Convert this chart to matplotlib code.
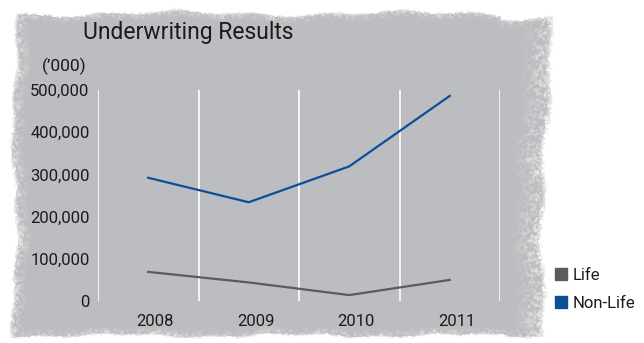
#!/usr/bin/env python
# Underwriting results, Life vs Non-Life, 2008-2011 ('000), drawn on a
# rough grey card background.
import numpy as np
import matplotlib
matplotlib.use("Agg")
import matplotlib.pyplot as plt
from matplotlib.lines import Line2D

years = ["2008", "2009", "2010", "2011"]
non_life = [292000, 234000, 319000, 486000]
life = [69000, 44000, 14000, 50000]
yticks = [0, 100000, 200000, 300000, 400000, 500000]

W, H = 644, 343
CARD = np.array([0.741, 0.745, 0.753])
BLUE = "#0c4e98"
GREY = "#5b5b5b"
INK = "#1b1b1b"

plt.rcParams["font.family"] = ["Roboto", "DejaVu Sans"]


def card_background():
    # grey card with ragged, speckled edges
    rng = np.random.default_rng(11)
    yy, xx = np.mgrid[0:H, 0:W].astype(float)

    def smooth(a, k):
        ker = np.ones(k) / k
        a = np.apply_along_axis(lambda r: np.convolve(r, ker, mode="same"), 0, a)
        a = np.apply_along_axis(lambda r: np.convolve(r, ker, mode="same"), 1, a)
        return a

    left = 13 + 2.5 * np.sin(yy / 29.0) + 1.5 * np.sin(yy / 9.3 + 1.0)
    right = (548 + 4 * np.sin(yy / 41.0 + 0.2) + 2 * np.sin(yy / 13.7)
             - 7 * np.clip((yy - 200) / 60.0, 0, 1))
    top = 12 + 2 * np.sin(xx / 37.0) + 1.5 * np.sin(xx / 11.7 + 2.0) + 4 * (xx > 500)
    bottom = 336 + 1.5 * np.sin(xx / 27.0 + 0.3) + 1 * np.sin(xx / 8.9)

    dl, dr, dt, db = xx - left, right - xx, yy - top, bottom - yy
    grain = smooth(rng.random((H, W)), 3)
    grain = (grain - grain.min()) / (grain.max() - grain.min())
    rough = (grain - 0.5) * 9

    d = np.minimum.reduce([dl, dr * 0.7, dt * 1.4, db * 1.6]) + rough
    alpha = np.clip(d / 2.5, 0, 1)

    band = np.clip(1 - np.minimum.reduce([dl / 14.0, dr / 30.0, dt / 8.0, db / 8.0]), 0, 1)
    speck = np.clip((grain - 0.42) * 3, 0, 1) * band
    img = np.ones((H, W, 4))
    for c in range(3):
        img[..., c] = CARD[c] + (1 - CARD[c]) * speck * 0.8
    img[..., 3] = alpha
    return img


fig = plt.figure(figsize=(W / 100, H / 100), dpi=100)
fig.patch.set_facecolor("white")

bg = fig.add_axes([0, 0, 1, 1], zorder=0)
bg.imshow(card_background(), extent=(0, W, H, 0), interpolation="bilinear")
bg.set_xlim(0, W)
bg.set_ylim(H, 0)
bg.axis("off")

ax = fig.add_axes([98 / W, 42 / H, 402 / W, 211 / H], zorder=1)
ax.patch.set_alpha(0)
x = np.arange(len(years))
ax.plot(x, life, color=GREY, lw=1.6, solid_joinstyle="miter")
ax.plot(x, non_life, color=BLUE, lw=1.6, solid_joinstyle="miter")

for b in np.arange(-0.5, len(years), 1.0):
    ax.axvline(b, color="white", lw=1.2, zorder=0)

ax.set_xlim(-0.5, len(years) - 0.5)
ax.set_ylim(0, 500000)
ax.set_yticks(yticks)
ax.set_yticklabels(["{:,}".format(v) for v in yticks], fontsize=12, color=INK)
# year labels sit a little right of the points
ax.set_xticks(x + 0.07)
ax.set_xticklabels(years, fontsize=12, color=INK)
ax.tick_params(axis="y", length=0, pad=6)
ax.tick_params(axis="x", length=0, pad=9)
for s in ax.spines.values():
    s.set_visible(False)

fig.text(83 / W, 1 - 32 / H, "Underwriting Results", fontsize=16.5,
         color=INK, va="center", ha="left")
fig.text(42 / W, 1 - 66 / H, "(\u2019000)", fontsize=12.5, color=INK,
         va="center", ha="left")

handles = [Line2D([], [], ls="none", marker="s", ms=8, color=GREY),
           Line2D([], [], ls="none", marker="s", ms=8, color=BLUE)]
fig.legend(handles, ["Life", "Non-Life"], loc="upper left",
           bbox_to_anchor=(554 / W, 1 - 268 / H), frameon=False, fontsize=12,
           handlelength=0.8, handletextpad=0.3, labelspacing=0.75,
           borderaxespad=0, borderpad=0, labelcolor=INK)

fig.savefig("out.png", dpi=100, facecolor="white")
